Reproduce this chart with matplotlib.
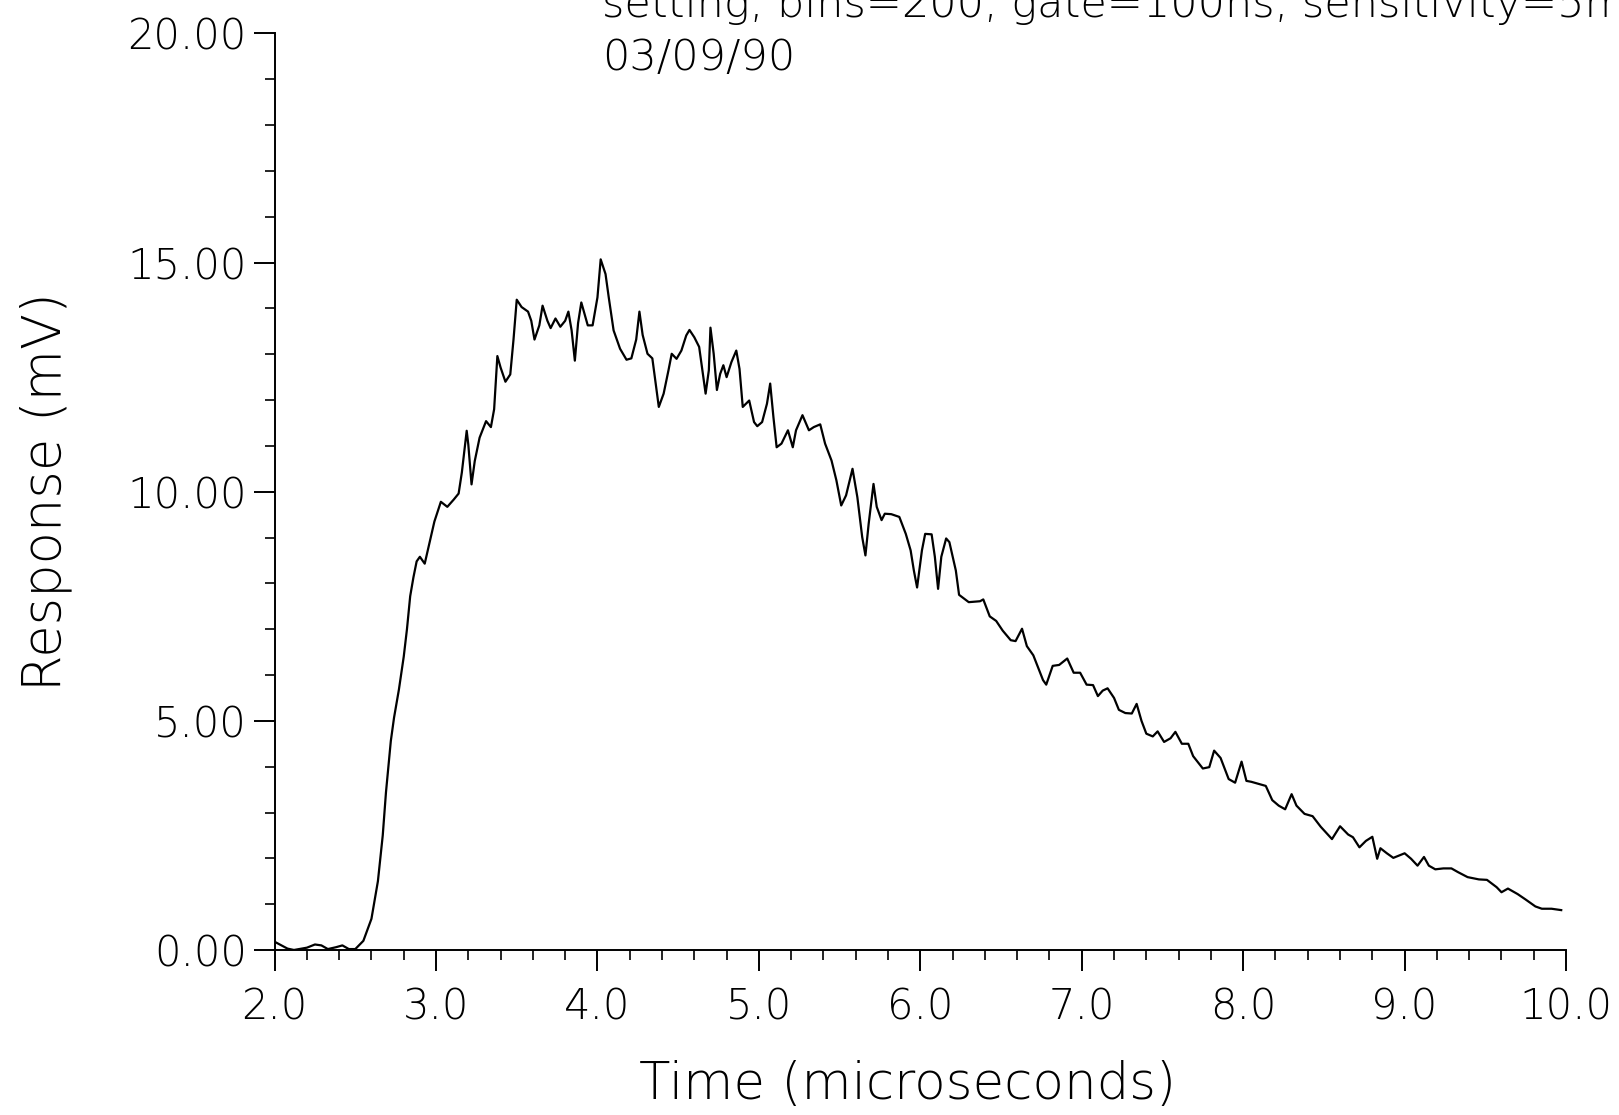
import matplotlib
matplotlib.use('Agg')
import matplotlib.pyplot as plt
from matplotlib.ticker import MultipleLocator, FormatStrFormatter

# trace (time in microseconds, response in mV)
time_us = [2.00, 2.08, 2.12, 2.20, 2.25, 2.29, 2.33, 2.38, 2.42, 2.46,
           2.50, 2.55, 2.60, 2.64, 2.67, 2.69, 2.72, 2.74, 2.77, 2.80,
           2.82, 2.84, 2.86, 2.88, 2.90, 2.93, 2.96, 2.99, 3.03, 3.07,
           3.11, 3.14, 3.16, 3.19, 3.20, 3.22, 3.24, 3.27, 3.31, 3.34,
           3.36, 3.38, 3.40, 3.43, 3.46, 3.48, 3.50, 3.53, 3.57, 3.59,
           3.61, 3.64, 3.66, 3.69, 3.71, 3.74, 3.77, 3.80, 3.82, 3.84,
           3.86, 3.88, 3.90, 3.92, 3.94, 3.97, 4.00, 4.02, 4.05, 4.07,
           4.10, 4.14, 4.18, 4.21, 4.24, 4.26, 4.28, 4.31, 4.34, 4.38,
           4.41, 4.44, 4.46, 4.49, 4.52, 4.55, 4.57, 4.60, 4.63, 4.65,
           4.67, 4.69, 4.70, 4.72, 4.74, 4.76, 4.78, 4.80, 4.83, 4.86,
           4.88, 4.90, 4.94, 4.97, 4.99, 5.02, 5.05, 5.07, 5.09, 5.11,
           5.14, 5.18, 5.21, 5.23, 5.27, 5.31, 5.34, 5.38, 5.41, 5.45,
           5.48, 5.51, 5.54, 5.58, 5.61, 5.64, 5.66, 5.68, 5.71, 5.73,
           5.76, 5.78, 5.82, 5.87, 5.91, 5.94, 5.96, 5.98, 6.01, 6.03,
           6.07, 6.09, 6.11, 6.13, 6.16, 6.18, 6.22,
           6.24, 6.30, 6.37, 6.39, 6.43, 6.47, 6.51, 6.56, 6.59, 6.63,
           6.66, 6.70, 6.73, 6.76, 6.78, 6.82, 6.86, 6.91, 6.95, 6.99,
           7.03, 7.07, 7.10, 7.13, 7.16, 7.20, 7.23, 7.27, 7.31, 7.34,
           7.37, 7.40, 7.44, 7.47, 7.51, 7.55, 7.58, 7.62, 7.66, 7.69,
           7.75, 7.79, 7.82, 7.86, 7.91, 7.95, 7.99, 8.02, 8.05, 8.11,
           8.14, 8.18, 8.22, 8.26, 8.30, 8.33, 8.38, 8.43, 8.48, 8.55,
           8.60, 8.65, 8.68, 8.72, 8.76, 8.80, 8.83, 8.85, 8.89, 8.93,
           9.00, 9.04, 9.08, 9.12, 9.15, 9.19, 9.24, 9.29, 9.33, 9.39,
           9.46, 9.51, 9.57, 9.60, 9.64, 9.70, 9.75, 9.81, 9.85, 9.91,
           9.97]

response_mv = [0.18, 0.03, 0.00, 0.05, 0.12, 0.10, 0.02, 0.06, 0.10, 0.02,
               0.02, 0.20, 0.68, 1.50, 2.50, 3.44, 4.56, 5.07, 5.68, 6.40,
               7.00, 7.72, 8.13, 8.48, 8.58, 8.43, 8.89, 9.35, 9.78, 9.67,
               9.83, 9.96, 10.42, 11.33, 11.03, 10.16, 10.67, 11.18, 11.54, 11.41,
               11.80, 12.96, 12.71, 12.40, 12.56, 13.32, 14.19, 14.03, 13.93, 13.73,
               13.32, 13.63, 14.06, 13.73, 13.57, 13.78, 13.60, 13.73, 13.93, 13.52,
               12.86, 13.68, 14.13, 13.88, 13.63, 13.63, 14.24, 15.07, 14.75, 14.24,
               13.52, 13.12, 12.88, 12.91, 13.32, 13.93, 13.42, 13.01, 12.91, 11.85,
               12.14, 12.65, 13.01, 12.90, 13.08, 13.41, 13.53, 13.37, 13.16, 12.65,
               12.14, 12.65, 13.58, 13.01, 12.22, 12.57, 12.76, 12.50, 12.83, 13.08,
               12.68, 11.85, 11.99, 11.52, 11.43, 11.52, 11.92, 12.36, 11.63, 10.97,
               11.05, 11.34, 10.97, 11.34, 11.67, 11.34, 11.41, 11.47, 11.05, 10.68,
               10.25, 9.70, 9.92, 10.50, 9.88, 9.01, 8.61, 9.30, 10.17, 9.67,
               9.38, 9.52, 9.51, 9.45, 9.08, 8.72, 8.28, 7.91, 8.72, 9.08,
               9.07, 8.58, 7.88, 8.58, 8.98, 8.90, 8.28,
               7.75, 7.59, 7.61, 7.65, 7.28, 7.18, 6.97, 6.76, 6.74, 7.01,
               6.63, 6.43, 6.16, 5.89, 5.79, 6.20, 6.22, 6.36, 6.05, 6.05,
               5.79, 5.78, 5.54, 5.66, 5.71, 5.50, 5.24, 5.17, 5.16, 5.37,
               5.00, 4.72, 4.66, 4.77, 4.54, 4.62, 4.76, 4.50, 4.50, 4.23,
               3.96, 3.99, 4.35, 4.19, 3.73, 3.65, 4.11, 3.69, 3.67, 3.61,
               3.58, 3.27, 3.15, 3.07, 3.40, 3.15, 2.97, 2.92, 2.69, 2.42,
               2.70, 2.52, 2.46, 2.24, 2.38, 2.47, 1.99, 2.22, 2.11, 2.01,
               2.11, 1.99, 1.84, 2.03, 1.84, 1.76, 1.78, 1.78, 1.70, 1.59,
               1.54, 1.53, 1.37, 1.26, 1.34, 1.22, 1.10, 0.95, 0.90, 0.90,
               0.87]

header_lines = ['setting, bins=200, gate=100ns, sensitivity=5mV', '03/09/90']

plt.rcParams['font.family'] = 'DejaVu Sans'
plt.rcParams['font.weight'] = 'light'
plt.rcParams['axes.labelweight'] = 'light'

fig = plt.figure(figsize=(16.19, 11.15), dpi=100)
ax = fig.add_axes([0.1696, 0.148, 0.7977, 0.822])

ax.plot(time_us, response_mv, color='black', linewidth=1.6)

ax.set_xlim(2.0, 10.0)
ax.set_ylim(0.0, 20.0)
ax.xaxis.set_major_locator(MultipleLocator(1.0))
ax.xaxis.set_minor_locator(MultipleLocator(0.2))
ax.yaxis.set_major_locator(MultipleLocator(5.0))
ax.yaxis.set_minor_locator(MultipleLocator(1.0))
ax.xaxis.set_major_formatter(FormatStrFormatter('%.1f'))
ax.yaxis.set_major_formatter(FormatStrFormatter('%.2f'))

for side in ['top', 'right']:
    ax.spines[side].set_visible(False)
for side in ['left', 'bottom']:
    ax.spines[side].set_linewidth(1.4)

ax.tick_params(axis='both', which='major', direction='out', length=15, width=1.4,
               labelsize=30, color='black')
ax.tick_params(axis='both', which='minor', direction='out', length=7, width=1.2)
ax.tick_params(axis='x', which='major', pad=11)
ax.tick_params(axis='y', which='major', pad=5)

ax.set_xlabel('Time (microseconds)', fontsize=37, labelpad=24)
ax.xaxis.label.set_x(0.49)
ax.set_ylabel('Response (mV)', fontsize=38, labelpad=40)

fig.text(0.3718, 0.985, header_lines[0], fontsize=31, ha='left', va='baseline')
fig.text(0.3718, 0.937, header_lines[1], fontsize=31, ha='left', va='baseline')

plt.savefig('out.png', dpi=100)
plt.close()
